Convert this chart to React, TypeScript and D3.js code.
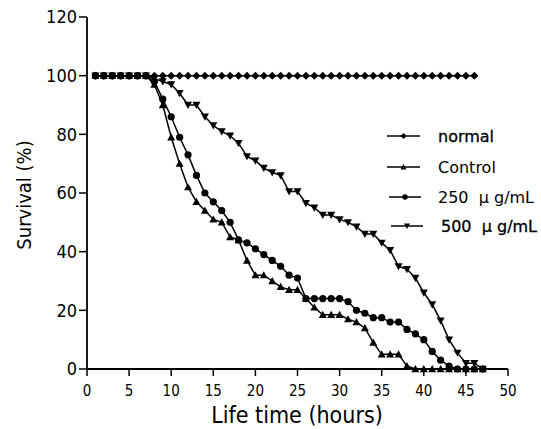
import React from "react";
import * as d3 from "d3";

const times = d3.range(1, 48);
const normalTimes = d3.range(1, 47);
const normalValues = normalTimes.map(() => 100);
const controlValues = [100, 100, 100, 100, 100, 100, 100, 97, 90, 79, 70, 62, 57, 54, 51, 50, 45, 44, 37, 32, 32, 30, 28, 27, 27, 24, 21, 18.5, 18.5, 18.5, 17, 16, 14, 9, 5, 5, 5, 1, 0, 0, 0, 0, 0, 0, 0, 0, 0];
const dose250Values = [100, 100, 100, 100, 100, 100, 100, 98, 92, 86, 79, 73, 66, 60, 57, 54, 50, 44, 43, 41, 39, 37, 35, 32, 31, 24, 24, 24, 24, 24, 23, 20, 19, 17.5, 17.5, 16, 16, 13.5, 12, 10, 6, 3, 1, 0, 0, 0, 0];
const dose500Values = [100, 100, 100, 100, 100, 100, 100, 99, 98, 97, 94, 90, 90, 86, 83, 81, 79.5, 77, 72.5, 71, 68.5, 67, 66, 60.5, 60.5, 56.5, 55, 52.5, 52.5, 51, 50, 48.5, 46, 46, 43, 40.5, 35, 34, 31, 26, 22, 16.5, 10, 5.5, 2, 2, 0];
const seriesNames = ["normal", "Control", "250\u00A0\u00A0\u03BC g/mL", "500\u00A0\u00A0\u03BC g/mL"];
const xTicks = [0, 5, 10, 15, 20, 25, 30, 35, 40, 45, 50];
const yTicks = [0, 20, 40, 60, 80, 100, 120];

type Shape = "diamond" | "tri" | "circle" | "triDown";

function Marker({ x, y, shape, s }: { x: number; y: number; shape: Shape; s: number }) {
  if (shape === "circle") return <circle cx={x} cy={y} r={s * 0.9} fill="#000" />;
  let pts: [number, number][];
  if (shape === "diamond") pts = [[0, -s], [s, 0], [0, s], [-s, 0]];
  else if (shape === "tri") pts = [[0, -s], [s, s * 0.8], [-s, s * 0.8]];
  else pts = [[0, s], [s, -s * 0.8], [-s, -s * 0.8]];
  return <polygon points={pts.map(([a, b]) => `${x + a},${y + b}`).join(" ")} fill="#000" />;
}

export default function App() {
  const W = 541, H = 429;
  const x = d3.scaleLinear().domain([0, 50]).range([87, 508]);
  const y = d3.scaleLinear().domain([0, 120]).range([369, 17]);
  const line = d3.line<[number, number]>().x(d => x(d[0])).y(d => y(d[1]));
  const font = "'DejaVu Sans Condensed', 'DejaVu Sans', sans-serif";

  const series: { t: number[]; v: number[]; shape: Shape; s: number }[] = [
    { t: times, v: controlValues, shape: "tri", s: 4 },
    { t: times, v: dose250Values, shape: "circle", s: 4 },
    { t: times, v: dose500Values, shape: "triDown", s: 4 },
    { t: normalTimes, v: normalValues, shape: "diamond", s: 4 },
  ];
  const legendShapes: Shape[] = ["diamond", "tri", "circle", "triDown"];
  const legendY = [136, 167, 197, 226];
  const legendX = [[387, 420, 438], [387, 420, 438], [389, 421, 438], [391, 423, 441]];
  const legendHeavy = [true, false, false, true];

  return (
    <svg width={W} height={H} style={{ position: "absolute", left: 0, top: 0, background: "#fff" }}>
      <line x1={87} x2={87} y1={17} y2={369} stroke="#000" strokeWidth={1.8} />
      <line x1={87} x2={508} y1={369} y2={369} stroke="#000" strokeWidth={1.8} />
      {yTicks.map(t => (
        <g key={"y" + t}>
          <line x1={79} x2={87} y1={y(t)} y2={y(t)} stroke="#000" strokeWidth={1.5} />
          <text x={77} y={y(t)} dy="0.36em" textAnchor="end" fontFamily={font} fontSize={18}>{t}</text>
        </g>
      ))}
      {xTicks.map(t => (
        <g key={"x" + t}>
          <line x1={x(t)} x2={x(t)} y1={369} y2={376} stroke="#000" strokeWidth={1.5} />
          <text x={x(t)} y={396} textAnchor="middle" fontFamily={font} fontSize={15}>{t}</text>
        </g>
      ))}
      <text x={297} y={423} textAnchor="middle" fontFamily={font} fontSize={23}>Life time (hours)</text>
      <text transform="translate(31,195) rotate(-90)" textAnchor="middle" fontFamily={font} fontSize={20}>Survival (%)</text>

      {series.map((s, i) => (
        <g key={"s" + i}>
          <path d={line(s.t.map((t, j) => [t, s.v[j]] as [number, number])) || ""} fill="none" stroke="#000" strokeWidth={1.5} />
          {s.t.map((t, j) => (
            <Marker key={j} x={x(t)} y={y(s.v[j])} shape={s.shape} s={s.s} />
          ))}
        </g>
      ))}

      {seriesNames.map((name, i) => (
        <g key={"l" + i}>
          <line x1={legendX[i][0]} x2={legendX[i][1]} y1={legendY[i]} y2={legendY[i]} stroke="#000" strokeWidth={1.5} />
          <Marker x={(legendX[i][0] + legendX[i][1]) / 2} y={legendY[i]} shape={legendShapes[i]} s={3} />
          <text x={legendX[i][2]} y={legendY[i]} dy="0.35em" fontFamily="'DejaVu Sans', sans-serif" fontSize={16}
            stroke={legendHeavy[i] ? "#000" : "none"} strokeWidth={legendHeavy[i] ? 0.3 : 0}
            style={{ whiteSpace: "pre" }}>{name}</text>
        </g>
      ))}
    </svg>
  );
}
